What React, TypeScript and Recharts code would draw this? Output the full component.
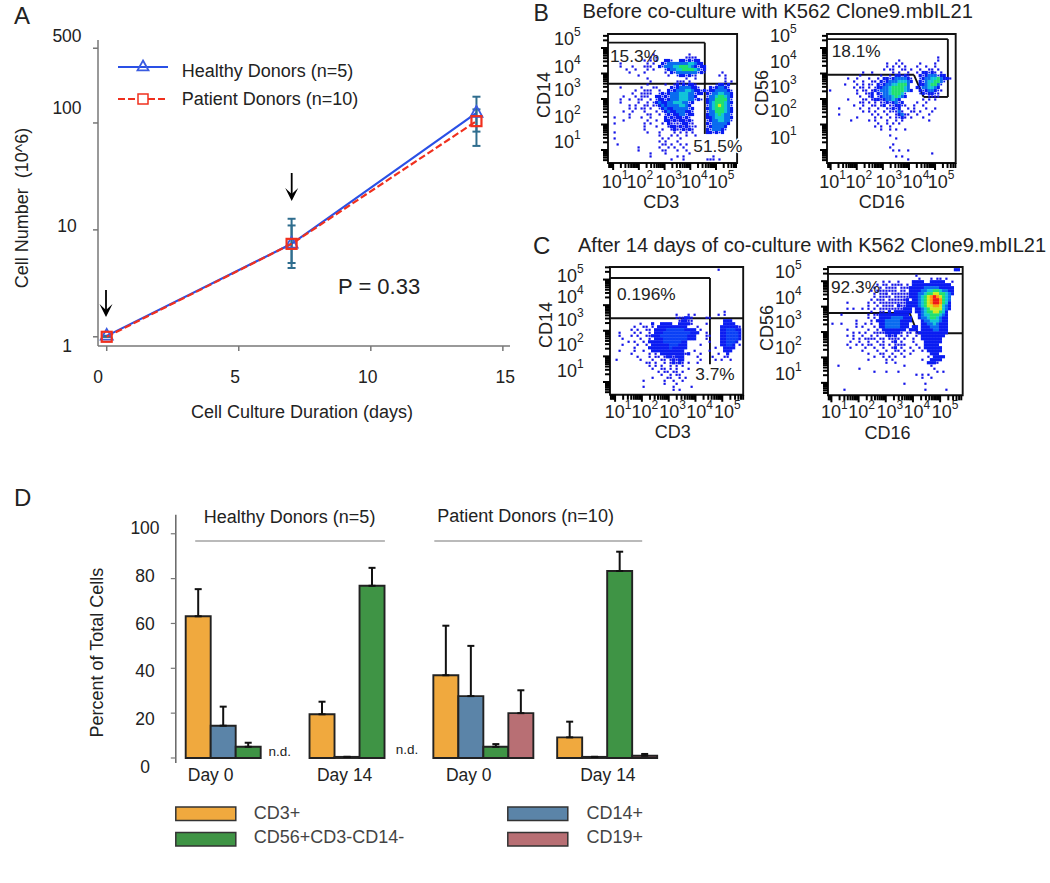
import React from "react";
import {
  LineChart, Line, BarChart, Bar, ScatterChart, Scatter, XAxis, YAxis, ErrorBar,
  ReferenceLine, ReferenceArea,
} from "recharts";

const FONT = "'Liberation Sans', Arial, sans-serif";

// ---------- Panel A ----------
const days = [0, 7, 14];
const healthyCount = [1.02, 7.4, 124];
const patientCount = [1.0, 7.4, 104];
const healthyErr = [[0, 0], [3.0, 5.3], [63, 52]];
const patientErr = [[0, 0], [2.5, 3.6], [21, 30]];
const countTable = days.map((day, i) => ({
  day, healthy: healthyCount[i], patient: patientCount[i], hErr: healthyErr[i], pErr: patientErr[i],
}));
const dayTicks = [0, 5, 10, 15];
const countTicks = [1, 10, 100, 500];

// ---------- Panel D ----------
const groups = ["Day 0", "Day 14", "Day 0 ", "Day 14 "];
const cd3 = [63.2, 19.5, 36.9, 9.2];
const cd3Err = [12.1, 5.6, 22.1, 7.0];
const cd14 = [14.4, 0.5, 27.6, 0.5];
const cd14Err = [8.5, 0, 22.4, 0];
const cd56 = [5, 76.8, 5, 83.4];
const cd56Err = [1.8, 8.0, 1.2, 8.6];
const cd19 = [null, null, 20, 1];
const cd19Err = [null, null, 10.2, 0.8];
const percentTicks = [0, 20, 40, 60, 80, 100];
const percentTable = groups.map((g, i) => ({
  g, cd3: cd3[i], cd3E: [0, cd3Err[i]], cd14: cd14[i], cd14E: [0, cd14Err[i]],
  cd56: cd56[i], cd56E: [0, cd56Err[i]], cd19: cd19[i], cd19E: cd19Err[i] == null ? null : [0, cd19Err[i]],
}));

// ---------- Flow plots: density, row by row ("column:levels") ----------
const densityBL = ["", "", "", "", "", "", "",
  "16:1 28:1", "15:1 17:1 27:1111", "13:1 15:1 17:1 20:222 25:2222222",
  "5:1 14:1 16:1 19:22333333344322", "5:1 9:1 13:111 18:2233344555432222",
  "7:1 10:1 14:1 16:1 20:22334455554322", "8:1 13:1 20:1 22:223333333222 39:1",
  "11:1 21:1 24:2222221 38:1 40:1", "14:1 27:1 30:1 40:1", "15:1 24:111 28:1 40:1 42:1",
  "14:1 20:1 23:12222221 37:22222", "5:1 12:1 16:11 22:2223333222 35:2223322",
  "10:1 13:111 18:1 21:2223334432222 34:222333322", "9:1 12:1111 18:222233344433222 34:223344332",
  "6:1 10:1 12:111 17:22222333444332 34:233455432", "5:1 8:1 11:11 15:1 17:2222233344433222 34:233555532",
  "5:1 11:1 14:1 16:22322334443322 34:234555432", "8:1 10:1 13:11 16:1223233334432 34:234565432",
  "8:1 10:1 12:11 15:1 18:223223333322 34:234555432", "6:1 9:1 13:1 17:1 19:22322333222 34:233555432",
  "8:1 14:11 18:1 20:2222233222 34:233454332", "3:1 8:1 12:1 15:1 20:222122222 34:223444332",
  "6:1 14:1 17:1 20:2212122122 34:223344332", "3:1 13:1 15:1 19:1 21:212122221 34:22333332",
  "13:1 17:1 21:1221212121 34:2233332", "13:1 19:1 22:12122121 34:2233322",
  "3:1 14:1 18:1 23:1 25:1 27:1 29:1 34:222222", "18:1 22:1 24:1 27:1 30:1", "3:1 19:1 21:1 25:1",
  "18:1 20:1 24:1", "4:1 19:11 22:1 25:1 27:1", "11:1 18:1 21:1 23:1 26:1", "11:1 19:11 24:1 27:1",
  "15:1 20:1 28:1", "15:1 24:1 26:1 36:1", "22:1 26:1 34:111 38:1",
];
const densityBR = ["", "", "", "", "", "", "", "",
  "39:1", "26:1 39:1", "22:1 25:1 27:1 33:1 38:1", "22:1 24:1 26:1 28:1 32:1 35:1 38:1",
  "21:1 23:11 27:11 30:1 33:1 36:11 39:1", "14:1 17:1 24:1 26:1 29:1 32:1 34:2222 38:1 40:1",
  "13:1 20:1 23:1 25:22221 33:222333222", "9:1 12:1 16:1 19:1 21:2222333322 33:2233445322 43:1",
  "11:1 14:1 17:11 20:22233344432 33:223445532", "8:1 12:1 14:1 16:12 19:22233445553 33:22345532",
  "11:1 13:11 16:1 18:222334555543 32:22334432", "3:1 12:1 14:11 17:12233345555432 33:2223322 40:1",
  "12:1 15:112 19:2233455542 33:2222221", "13:1 16:12 19:2233345432 36:1111",
  "9:1 14:11 17:1221233432 34:1 36:1 38:1", "13:11 16:1 18:1 20:12222322 32:1 35:1",
  "11:1 14:1 17:11 20:12 23:122221 31:1 34:1", "6:1 13:1 16:1 19:1 22:12222 29:1 31:1 35:1 38:1",
  "14:1 16:1 18:1 21:1 23:12131 30:11 33:1 37:1", "6:1 17:1 19:1 22:1 25:1231 29:1 32:1 36:1",
  "12:1 18:1 20:1 23:1 25:1221 30:1 34:1", "10:1 16:1 18:1 22:1 25:1 27:1 36:1",
  "19:1 22:1 24:1 26:1", "18:1 20:1 23:1", "20:1 23:1 25:1 28:1", "", "23:1", "25:1", "", "24:1",
  "23:1", "24:1 26:1 29:1", "37:1", "25:1 27:1", "29:1",
];
const densityCL = ["", "37:1", "", "", "", "", "", "", "", "", "", "", "", "", "",
  "39:1", "23:1 27:1 29:1 37:1 39:1", "23:111 26:22 28:1 33:11", "24:1221 28:1 39:222",
  "11:1 15:2 18:2222 24:2222 28:1 33:1 39:2222", "9:1 12:11 15:1 17:2222222222 30:1 38:222222 44:1",
  "8:1 10:1 13:11 16:22223333332222 31:1 38:2233322", "4:1 9:1 11:1 14:1 16:222333333333222 33:1 38:2233332",
  "4:1 8:1 10:1 13:11 15:222333333333222 33:11 38:2233332", "5:1 11:1 14:1 16:22233333333222 33:1 38:2233332",
  "7:1 9:1 12:1 14:2222233333322 34:1 38:223332", "5:1 10:1 13:1 15:222222333222 31:1 38:22332 44:1",
  "9:1 14:2222222322222 36:1 39:2222", "4:1 9:1 12:1 15:22222222222 29:1 34:1 39:222",
  "8:1 14:1 16:1 18:2222222212 31:1 37:1 40:2", "10:1 14:1 16:11 19:1221222 30:1 35:1 39:11",
  "3:1 11:1 15:1 18:11 21:12122 31:1 36:1 38:1 41:1", "13:11 16:1 19:1 21:12121 27:1 30:1",
  "14:1 16:1 18:1 21:1 23:1 25:1", "15:1 18:11 21:1 23:1 27:1", "17:1 19:11 22:11 25:1",
  "18:1 21:1 23:11", "15:1 20:11 24:1 26:1", "12:1 19:1 22:1 25:1", "19:1 23:1", "12:1 22:1 28:1", "22:1 24:1",
];
const densityCR = ["", "44:22", "", "31:1", "32:1 36:1 38:11 41:1",
  "20:1 22:1 25:1 30:2222 36:22222 43:1", "18:1 20:1 21:1 23:11 25:1 26:1 28:1 30:2222222 37:222222",
  "17:1 19:1 21:11 23:1 24:1 26:1 27:1 28:1 29:222223333322222", "16:1 18:11 20:1 21:11 23:1 24:1 26:11 29:222233445543322",
  "17:1 19:111 21:1 23:11 25:1 26:11 28:1 29:222334556655432", "17:1 19:11 21:1 22:1 24:11 26:1 27:11 29:22234567876543",
  "16:1 18:1 19:1 20:1 22:11 24:1 25:111 27:1 28:2 30:2234567887543", "8:1 15:1 17:1 19:11 21:1 22:1 23:1 24:11 26:1 27:122 30:2234567887542",
  "15:1 18:1 20:11 22:1 23:1 25:2 26:1 27:122 30:2234566776432", "8:1 10:1 13:1 15:1 17:1 19:1 20:1 21:1 22:1 23:1 24:1 25:1 26:12 28:22 31:223456666432",
  "16:1 19:11 22:2 24:222222 31:22345566542", "6:1 15:1 17:11 19:2222222222 32:2344555432",
  "15:1 17:1 19:22223333222 32:2334554322", "11:1 16:1 18:222333332222 33:233444322",
  "3:1 6:1 11:1 14:1 16:1 19:2233333222 33:223343222", "11:1 13:1 17:1 19:2233333222 30:22 33:222333222",
  "8:1 15:1 18:1 20:22222222 29:222 33:222233222", "10:1 12:1 14:1 17:11 19:1 20:1222221 28:1 29:1 31:1 32:2222222222",
  "8:1 10:1 13:1 16:1 18:1 21:1212 26:1 28:1 31:1 33:22222222", "10:1 12:1 14:11 16:1 17:1 19:1 20:1 22:1 23:1 24:1 25:1 27:1 30:1 33:2222222",
  "9:1 12:1 15:1 18:1 20:1 23:12 26:1 30:1 34:222222", "8:1 11:1 13:1 15:1 16:1 19:1 20:1 22:1 24:11 26:1 27:1 31:1 34:22222",
  "9:1 14:1 17:1 20:1 23:12 26:1 29:1 32:1 34:222222", "13:1 18:1 21:1 24:11 27:1 30:1 33:1 35:22222",
  "15:1 19:11 23:1 26:1 29:1 36:222", "17:1 20:1 22:1 24:1 27:1 35:1 37:2222", "15:1 21:1 23:1 33:1 36:2222",
  "21:1 24:1 35:222 38:1", "5:1 27:1 36:1", "12:1 37:1", "17:1 21:1 25:1 38:1 40:1", "31:1 33:1 35:1",
  "33:1 36:1", "", "27:1 34:1", "", "7:1 34:1 41:1",
];
const levelColors = ["", "#1414e8", "#0a1cf2", "#0a6cf0", "#12c4d8", "#20e070", "#cfe820", "#ff9a10", "#ee1818"];
const decades = [1, 2, 3, 4, 5];

function cellsFrom(rows: string[], gx0: number, gy0: number, sx: number, sy: number) {
  const out: { x: number; y: number; thin: boolean }[][] = levelColors.map(() => []);
  rows.forEach((row, r) => {
    row.split(" ").filter(Boolean).forEach((tok) => {
      const [start, lv] = tok.split(":");
      [...lv].forEach((ch, k) => {
        const col = Number(start) + k;
        out[Number(ch)].push({
          x: gx0 + (col + 0.5) * sx, y: gy0 - (r + 0.5) * sy,
          thin: (col * 7 + r * 3) % 5 < 2,
        });
      });
    });
  });
  return out;
}

function flowTicks(lo: number, hi: number) {
  const t: number[] = [];
  for (let d = 0; d <= 5; d++) {
    for (let m = 1; m <= 9; m++) {
      const v = m === 1 ? d : d + Math.log10(m);
      if (v > lo && v < hi) t.push(v);
    }
  }
  return t;
}

const Dot = ({ cx, cy, size, fill }: any) => (
  <rect x={cx - size / 2} y={cy - size / 2} width={size} height={size} fill={fill} />
);

const LABEL = 18;
const EXP = 12;

function FlowPlot({ p }: any) {
  const padL = 70, padT = 24, padB = 60, padR = 6;
  const w = p.frame[2] - p.frame[0], h = p.frame[3] - p.frame[1];
  const levels = cellsFrom(p.rows, p.grid[0], p.grid[1], p.grid[2], p.grid[3]);
  const colors = p.colors || levelColors;
  const xTick = ({ x, y, payload }: any) => {
    const v = payload.value;
    const major = Number.isInteger(v);
    const i = decades.indexOf(v);
    return (
      <g>
        <line x1={x} x2={x} y1={y} y2={y + (major ? 7 : 5)} stroke="#000" strokeWidth={2} />
        {i >= 0 && (
          <text x={x + p.xDx[i]} y={y + p.xLabelDy} textAnchor="middle" dominantBaseline="central"
            fontFamily={FONT} fontSize={LABEL} fill="#222">
            10<tspan fontSize={EXP} dy={-7}>{v}</tspan>
          </text>
        )}
      </g>
    );
  };
  const yTick = ({ x, y, payload }: any) => {
    const v = payload.value;
    const major = Number.isInteger(v);
    const i = decades.indexOf(v);
    return (
      <g>
        <line x1={x} x2={x - (major ? 7 : 5)} y1={y} y2={y} stroke="#000" strokeWidth={2} />
        {i >= 0 && (
          <text x={x + p.yLabelDx} y={y + p.yDy[i]} textAnchor="start" dominantBaseline="central"
            fontFamily={FONT} fontSize={LABEL} fill="#222">
            10<tspan fontSize={EXP} dy={-7}>{v}</tspan>
          </text>
        )}
      </g>
    );
  };
  return (
    <div style={{ position: "absolute", left: p.frame[0] - padL, top: p.frame[1] - padT }}>
      <ScatterChart width={w + padL + padR} height={h + padT + padB}
        margin={{ top: padT, right: padR, bottom: 0, left: 0 }}>
        <XAxis type="number" dataKey="x" domain={p.xd} ticks={flowTicks(p.xd[0], p.xd[1])} interval={0}
          height={padB} axisLine={false} tickLine={false} tickSize={0} tickMargin={0} tick={xTick} />
        <YAxis type="number" dataKey="y" domain={p.yd} ticks={flowTicks(p.yd[0], p.yd[1])} interval={0}
          width={padL} axisLine={false} tickLine={false} tickSize={0} tickMargin={0} tick={yTick} />
        {levels.map((pts, lv) => lv === 0 ? null : (
          <Scatter key={lv} data={pts} isAnimationActive={false}
            shape={(s: any) => (
              <Dot cx={s.cx} cy={s.cy}
                size={lv === 1 ? 2.2 : lv === 2 && s.payload && s.payload.thin && !p.solid ? 1.8 : 3.2}
                fill={colors[lv]} />
            )} />
        ))}
        <ReferenceArea x1={p.xd[0]} x2={p.xd[1]} y1={p.yd[0]} y2={p.yd[1]} fill="none" fillOpacity={0}
          stroke="#111" strokeWidth={1.9} />
        {p.gates.map((g: number[][], i: number) => (
          <ReferenceLine key={i} segment={[{ x: g[0][0], y: g[0][1] }, { x: g[1][0], y: g[1][1] }]}
            stroke="#111" strokeWidth={1.9} />
        ))}
      </ScatterChart>
    </div>
  );
}

const panelBL = {
  frame: [607.9, 34.3, 737, 163.3], xd: [0.8, 5.82], yd: [0.49, 5.55], rows: densityBL,
  grid: [0.65, 5.627, 0.1165, 0.1176], xDx: [2, 1, 4, 4, 5], xLabelDy: 19, yDy: [-8, -8, -9, -7, -9], yLabelDx: -54,
  gates: [[[0.8, 3.6], [5.82, 3.6]], [[0.8, 5.21], [4.565, 5.21]], [[4.565, 5.21], [4.565, 1.63]]],
};
const panelBR = {
  frame: [827.3, 34.3, 956, 163.3], xd: [0.86, 5.79], yd: [0.49, 5.55], rows: densityBR,
  grid: [0.579, 5.627, 0.115, 0.1176], xDx: [2, 2, 6, 7, 6], xLabelDy: 19, yDy: [-12, -13, -12, -12, -12], yLabelDx: -57,
  gates: [[[0.86, 5.35], [5.49, 5.35]], [[5.49, 5.35], [5.49, 3.08]], [[5.49, 3.08], [4.56, 3.08]],
    [[4.56, 3.08], [4.19, 3.95]], [[4.19, 3.95], [0.86, 3.95]]],
};
const panelCL = {
  frame: [609.8, 266.7, 743, 394.5], xd: [0.81, 5.78], yd: [0.5, 5.49], rows: densityCL,
  colors: ["", "#1414e8", "#0a1cf2", "#0a40f6", "", "", "", "", ""], solid: true,
  grid: [0.664, 5.559, 0.112, 0.1172], xDx: [3, 3, 4, 4, 5], xLabelDy: 17.5, yDy: [-11, -11, -11, -8, -4], yLabelDx: -53,
  gates: [[[0.81, 3.49], [5.78, 3.49]], [[0.81, 5.06], [4.54, 5.06]], [[4.54, 5.06], [4.54, 1.69]]],
};
const panelCR = {
  frame: [828.2, 266.7, 962.9, 395], xd: [0.875, 5.83], yd: [0.51, 5.56], rows: densityCR, solid: true,
  grid: [0.654, 5.63, 0.1103, 0.1181], xDx: [3, 3, 4, 4, 5], xLabelDy: 17, yDy: [-9, -9, -10, -9, -9], yLabelDx: -53,
  gates: [[[0.875, 5.29], [5.83, 5.29]], [[0.875, 3.75], [3.88, 3.75]], [[3.88, 3.75], [4.17, 2.95]], [[4.17, 2.95], [5.83, 2.95]]],
};

// ---------- Shared text ----------
const T = ({ x, y, s = 18, a = "start", c = "#222", r, halo, children }: any) => (
  <text x={x} y={y} fontFamily={FONT} fontSize={s} textAnchor={a} dominantBaseline="central" fill={c}
    transform={r ? `rotate(${r} ${x} ${y})` : undefined}
    stroke={halo ? "#fff" : undefined} strokeWidth={halo ? 3 : undefined} paintOrder={halo ? "stroke" : undefined}>
    {children}
  </text>
);

const Arrow = ({ x, y1, y2 }: any) => (
  <g>
    <line x1={x} x2={x} y1={y1} y2={y2 - 6} stroke="#000" strokeWidth={1.8} />
    <polygon points={`${x - 6.5},${y2 - 13} ${x},${y2 - 7} ${x + 6.5},${y2 - 13} ${x},${y2}`} fill="#000" />
  </g>
);

const tri = (cx: number, cy: number, sz: number) =>
  `${cx},${cy - sz} ${cx + sz},${cy + sz * 0.8} ${cx - sz},${cy + sz * 0.8}`;

const aYDy: Record<number, number> = { 1: 9, 10: -4, 100: -15, 500: -12 };
const aXDx: Record<number, number> = { 0: -8.7, 5: -3.7, 10: -3, 15: 2.3 };
const dYDy: Record<number, number> = { 0: 9, 20: 6, 40: 2.7, 60: 0.6, 80: -2.5, 100: -6 };
const dXDx = [-24.9, -14.7, -14.4, 0.9];

const HealthyDot = ({ cx, cy }: any) => (
  <polygon points={tri(cx, cy - 1, 6)} fill="none" stroke="#3a5be0" strokeWidth={1.8} />
);
const PatientDot = ({ cx, cy }: any) => (
  <rect x={cx - 5} y={cy - 5} width={10} height={10} fill="none" stroke="#f0301e" strokeWidth={2.2} />
);

const barColors = { cd3: "#f0a93e", cd14: "#5b84a8", cd56: "#3f9445", cd19: "#b86f74" };

const Swatch = ({ x, y, c }: any) => (
  <rect x={x} y={y} width={60} height={13.5} fill={c} stroke="#333" strokeWidth={1.5} />
);

export default function App() {
  return (
    <div style={{ position: "absolute", left: 0, top: 0, width: 1050, height: 883, background: "#fff", overflow: "hidden" }}>
      {/* Panel A */}
      <div style={{ position: "absolute", left: 0, top: 0 }}>
        <LineChart width={520} height={430} data={countTable} margin={{ top: 40, right: 10, bottom: 0, left: 0 }}>
          <XAxis type="number" dataKey="day" domain={[-0.33, 15.27]} ticks={dayTicks} interval={0} height={84}
            axisLine={{ stroke: "#777", strokeWidth: 1.5 }} tickLine={false} tickSize={0} tickMargin={0}
            tick={({ x, y, payload }: any) => (
              <g>
                <line x1={x} x2={x} y1={y} y2={y + 5} stroke="#777" strokeWidth={1.5} />
                <text x={x + aXDx[payload.value]} y={y + 31} textAnchor="middle" dominantBaseline="central"
                  fontFamily={FONT} fontSize={17.5} fill="#222">{payload.value}</text>
              </g>
            )} />
          <YAxis type="number" scale="log" domain={[0.82, 597]} ticks={countTicks} interval={0} width={98}
            axisLine={{ stroke: "#777", strokeWidth: 1.5 }} tickLine={false} tickSize={0} tickMargin={0}
            tick={({ x, y, payload }: any) => (
              <g>
                <line x1={x} x2={x - 5} y1={y} y2={y} stroke="#777" strokeWidth={1.5} />
                <text x={67} y={y + aYDy[payload.value]} textAnchor="middle" dominantBaseline="central"
                  fontFamily={FONT} fontSize={17.5} fill="#222">{payload.value}</text>
              </g>
            )} />
          <Line dataKey="healthy" stroke="#2a50e6" strokeWidth={2.2} isAnimationActive={false}
            dot={(d: any) => <HealthyDot key={d.index} cx={d.cx} cy={d.cy} />}>
            <ErrorBar dataKey="hErr" direction="y" width={4} stroke="#2f6d8e" strokeWidth={2} />
          </Line>
          <Line dataKey="patient" stroke="#f0301e" strokeWidth={2.2} strokeDasharray="7 3" isAnimationActive={false}
            dot={(d: any) => <PatientDot key={d.index} cx={d.cx} cy={d.cy} />}>
            <ErrorBar dataKey="pErr" direction="y" width={4} stroke="#2f6d8e" strokeWidth={2} />
          </Line>
        </LineChart>
      </div>

      {/* Panels B and C */}
      <FlowPlot p={panelBL} />
      <FlowPlot p={panelBR} />
      <FlowPlot p={panelCL} />
      <FlowPlot p={panelCR} />

      {/* Panel D */}
      <div style={{ position: "absolute", left: 100, top: 480 }}>
        <BarChart width={600} height={320} data={percentTable} barGap={0} barCategoryGap={12.1}
          margin={{ top: 34.7, right: 31.1, bottom: 0, left: 0 }}>
          <XAxis dataKey="g" height={37} axisLine={false} tickLine={false} tickSize={0} tickMargin={0} interval={0}
            padding={{ left: -2.2, right: 0 }}
            tick={({ x, y, index, payload }: any) => (
              <text x={x + dXDx[index]} y={y + 12} textAnchor="middle" dominantBaseline="central"
                fontFamily={FONT} fontSize={17.5} fill="#222">{String(payload.value).trim()}</text>
            )} />
          <YAxis type="number" domain={[-2.23, 108.5]} ticks={percentTicks} interval={0} width={75.8}
            axisLine={{ stroke: "#666", strokeWidth: 1.5 }} tickLine={false} tickSize={0} tickMargin={0}
            tick={({ x, y, payload }: any) => (
              <g>
                <line x1={x} x2={x - 5} y1={y} y2={y} stroke="#777" strokeWidth={1.2} />
                <text x={45} y={y + dYDy[payload.value]} textAnchor="middle" dominantBaseline="central"
                  fontFamily={FONT} fontSize={17.5} fill="#222">{payload.value}</text>
              </g>
            )} />
          <Bar dataKey="cd3" fill={barColors.cd3} stroke="#222" strokeWidth={1.9} isAnimationActive={false}>
            <ErrorBar dataKey="cd3E" direction="y" width={3.5} stroke="#111" strokeWidth={2} />
          </Bar>
          <Bar dataKey="cd14" fill={barColors.cd14} stroke="#222" strokeWidth={1.9} isAnimationActive={false}>
            <ErrorBar dataKey="cd14E" direction="y" width={3.5} stroke="#111" strokeWidth={2} />
          </Bar>
          <Bar dataKey="cd56" fill={barColors.cd56} stroke="#222" strokeWidth={1.9} isAnimationActive={false}>
            <ErrorBar dataKey="cd56E" direction="y" width={3.5} stroke="#111" strokeWidth={2} />
          </Bar>
          <Bar dataKey="cd19" fill={barColors.cd19} stroke="#222" strokeWidth={1.9} isAnimationActive={false}>
            <ErrorBar dataKey="cd19E" direction="y" width={3.5} stroke="#111" strokeWidth={2} />
          </Bar>
        </BarChart>
      </div>

      {/* Text and annotations */}
      <svg width={1050} height={883} style={{ position: "absolute", left: 0, top: 0, pointerEvents: "none" }}>
        <T x={14} y={15} s={24}>A</T>
        <T x={22} y={208} r={-90} a="middle">{"Cell Number\u00a0\u00a0(10^6)"}</T>
        <T x={302} y={412} a="middle">Cell Culture Duration (days)</T>
        <T x={338} y={286} s={22}>P = 0.33</T>
        <Arrow x={106} y1={290} y2={317} />
        <Arrow x={291.7} y1={173} y2={201} />
        <line x1={118} x2={168} y1={67} y2={67} stroke="#2a50e6" strokeWidth={2.2} />
        <polygon points={tri(143, 66, 5.5)} fill="none" stroke="#3a5be0" strokeWidth={1.8} />
        <line x1={118} x2={168} y1={99} y2={99} stroke="#f0301e" strokeWidth={2.2} strokeDasharray="7 3" />
        <rect x={138} y={94} width={10} height={10} fill="#fff" stroke="#f0301e" strokeWidth={1.5} />
        <T x={181.7} y={70.7}>Healthy Donors (n=5)</T>
        <T x={181.7} y={99}>Patient Donors (n=10)</T>

        <T x={533.5} y={13} s={23}>B</T>
        <T x={582.5} y={11} s={20.2}>Before co-culture with K562 Clone9.mbIL21</T>
        <T x={661.3} y={202} a="middle">CD3</T>
        <T x={543.7} y={95} a="middle" r={-90}>CD14</T>
        <T x={881.7} y={202} a="middle">CD16</T>
        <T x={761.7} y={93} a="middle" r={-90}>CD56</T>
        <T x={610} y={56} s={17.3}>15.3%</T>
        <T x={693.3} y={146.3} s={17.3} halo>51.5%</T>
        <T x={831.7} y={51.3} s={17.3}>18.1%</T>

        <T x={533} y={245} s={24}>C</T>
        <T x={578} y={245} s={20}>After 14 days of co-culture with K562 Clone9.mbIL21</T>
        <T x={672.8} y={432} a="middle">CD3</T>
        <T x={546.4} y={325} a="middle" r={-90}>CD14</T>
        <T x={887.5} y={433} a="middle">CD16</T>
        <T x={766.8} y={328} a="middle" r={-90}>CD56</T>
        <T x={617} y={294.3} s={17.3}>0.196%</T>
        <T x={695.3} y={374.3} s={17.3} halo>3.7%</T>
        <T x={831} y={287.3} s={17.3}>92.3%</T>

        <T x={14} y={497} s={24}>D</T>
        <T x={97.5} y={652.7} a="middle" r={-90}>Percent of Total Cells</T>
        <T x={289.6} y={517} a="middle">Healthy Donors (n=5)</T>
        <T x={525.6} y={515.7} a="middle">Patient Donors (n=10)</T>
        <line x1={195.2} x2={384.9} y1={541} y2={541} stroke="#777" strokeWidth={1.2} />
        <line x1={434.3} x2={642.2} y1={541} y2={541} stroke="#777" strokeWidth={1.2} />
        <T x={279.8} y={751} s={13.5} a="middle">n.d.</T>
        <T x={407} y={749} s={13.5} a="middle">n.d.</T>
        <Swatch x={175.8} y={807} c={barColors.cd3} />
        <Swatch x={175.8} y={832.5} c={barColors.cd56} />
        <Swatch x={507.8} y={807} c={barColors.cd14} />
        <Swatch x={507.8} y={832.5} c={barColors.cd19} />
        <T x={253.7} y={812.7} c="#444">CD3+</T>
        <T x={253.7} y={836.7} c="#444">CD56+CD3-CD14-</T>
        <T x={586.5} y={812.7} c="#444">CD14+</T>
        <T x={586.5} y={836.7} c="#444">CD19+</T>
      </svg>
    </div>
  );
}
